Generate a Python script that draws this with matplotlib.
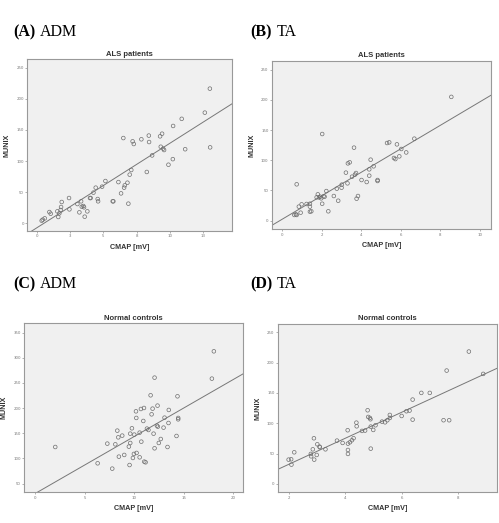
import matplotlib
matplotlib.use("Agg")
import matplotlib.pyplot as plt
import numpy as np

# ---------------- data ----------------
a_cmap = [0.35, 0.43, 0.58, 0.93, 1.03, 1.53, 1.6, 1.68, 1.78, 1.81, 1.86, 2.41, 2.44, 3.04, 3.19,
          3.32, 3.37, 3.49, 3.54, 3.59, 3.79, 3.99, 4.04, 4.25, 4.42, 4.57, 4.6, 4.9, 5.15, 5.7,
          5.75, 6.13, 6.33, 6.5, 6.56, 6.61, 6.81, 6.88, 6.98, 7.1, 7.2, 7.29, 7.86, 8.27, 8.42,
          8.44, 8.67, 9.27, 9.32, 9.42, 9.5, 9.57, 9.9, 10.23, 10.25, 10.9, 11.16, 12.64, 13.02, 13.04]
a_munix = [3.8, 5.4, 7.5, 17.7, 15, 18.8, 9.7, 15.6, 21, 25.8, 33.9, 40.3, 22, 30.6, 17.2,
           35, 26.3, 27.4, 25.3, 10.2, 18.8, 40.3, 40.3, 49, 57, 38.7, 35, 58.6, 67.7, 35,
           35, 66, 47.8, 137, 57, 60.8, 65, 31.2, 78, 85.5, 131.7, 127.4, 135, 82.3, 141,
           130.6, 109, 139.8, 123, 144, 120, 117.7, 94, 103, 156.5, 168, 119, 178, 216.7, 122]

b_cmap = [0.73, 0.84, 0.98, 0.93, 0.69, 0.61, 0.73, 1.23, 1.4, 1.4, 1.4, 1.47, 1.74, 1.8, 1.86,
          1.92, 1.97, 2.02, 2.02, 2.09, 2.14, 2.23, 2.33, 2.61, 2.76, 2.83, 3.0, 3.01, 3.22, 3.3,
          3.32, 3.41, 3.63, 3.53, 3.68, 3.73, 3.76, 3.83, 4.01, 4.27, 4.4, 4.4, 4.47, 4.62, 4.82,
          4.82, 5.3, 5.41, 5.65, 5.72, 5.8, 5.92, 6.02, 6.27, 6.68, 8.55]
b_munix = [60.2, 23.2, 27, 13.2, 10.5, 9.4, 9.4, 27.6, 28, 23.2, 14.9, 15.5, 38.6, 43.6, 38.6,
           39.7, 37, 143.5, 28, 40.3, 39.7, 49, 15.5, 40.8, 53, 33, 54.6, 59.6, 79.5, 61.8,
           94.9, 96.6, 120.9, 72.8, 76.2, 78.9, 36.4, 40.8, 67.3, 64, 74.5, 85, 101, 90, 67.3,
           65.7, 128.6, 129.7, 103.8, 102, 126.4, 106.5, 118.7, 113, 135.8, 205]

c_cmap = [2.02, 6.31, 7.29, 7.79, 8.1, 8.3, 8.4, 8.46, 8.8, 9.0, 9.47, 9.54, 9.61, 9.61, 9.78,
          9.88, 9.98, 10.02, 10.19, 10.22, 10.25, 10.56, 10.56, 10.69, 10.73, 10.93, 11.0, 11.03,
          11.16, 11.3, 11.45, 11.67, 11.77, 11.87, 11.97, 12.07, 12.07, 12.31, 12.37, 12.4, 12.5,
          12.7, 12.98, 13.08, 13.38, 13.48, 13.51, 14.29, 14.39, 14.46, 14.46, 17.87, 18.07]
c_munix = [122.8, 90.4, 129.5, 79.8, 128.1, 155.3, 142, 103.6, 145.4, 107, 123.5, 87, 130.8, 149.3,
           160, 101, 109, 147.4, 193.7, 180.5, 111, 151.3, 102.3, 198.3, 133.4, 174.5, 200.3, 93.7,
           92.4, 159.3, 156.6, 225.5, 187.7, 199, 149.3, 260.6, 120.2, 165.2, 205, 163.2, 130.8,
           138.7, 161.3, 181.1, 122.8, 170.5, 196.4, 144.7, 223.5, 180.5, 177.8, 258.6, 312.9]

d_cmap = [1.98, 2.07, 2.08, 2.18, 2.77, 2.78, 2.84, 2.88, 2.89, 2.98, 3.0, 3.08, 3.09, 3.29, 3.7,
          3.9, 4.08, 4.09, 4.09, 4.09, 4.16, 4.23, 4.29, 4.39, 4.4, 4.59, 4.7, 4.79, 4.81, 4.87,
          4.89, 4.9, 4.9, 4.99, 5.07, 5.3, 5.41, 5.49, 5.58, 5.58, 6.0, 6.17, 6.28, 6.39, 6.39,
          6.7, 7.0, 7.49, 7.6, 7.69, 8.39, 8.9]
d_munix = [40.1, 40.7, 31.9, 52.2, 49.5, 45.6, 57.1, 75.3, 40.1, 47.8, 65.4, 61.5, 60.4, 57.1, 71.4,
           67.6, 88.5, 49.5, 56, 66.5, 68.7, 72, 75.3, 101, 95, 87.4, 88, 121.4, 110.4, 108.8,
           106.6, 58.2, 94.5, 89, 96.7, 102.7, 101.6, 105, 108.8, 113.7, 112, 119.8, 120.9, 139, 106,
           150, 150, 105, 186.8, 105, 218.1, 181.3]

# fit lines (slope, intercept)
fits = [(13.6, -7.5), (19.45, 2.4), (11.3, 30.5), (21.35, -10.0)]

panel_letters = ["A", "B", "C", "D"]
panel_names = ["ADM", "TA", "ADM", "TA"]
titles = ["ALS patients", "ALS patients", "Normal controls", "Normal controls"]

xticks = [[0, 2.5, 5, 7.5, 10, 12.5], [0, 2, 4, 6, 8, 10], [0, 5, 10, 15, 20], [2, 4, 6, 8]]
xticklabels = [["0", "3", "5", "8", "10", "13"], ["0", "2", "4", "6", "8", "10"],
               ["0", "5", "10", "15", "20"], ["2", "4", "6", "8"]]
yticks = [[0, 50, 100, 150, 200, 250], [0, 50, 100, 150, 200, 250],
          [50, 100, 150, 200, 250, 300, 350], [0, 50, 100, 150, 200, 250]]

# ---------------- layout ----------------
xlims = [(-0.73, 14.72), (-0.52, 10.57), (-1.11, 21.05), (1.6, 9.4)]
ylims = [(-12.9, 264), (-14.3, 265), (32.8, 368.5), (-13.7, 264)]
rects = [(0.0548, 0.5583, 0.411, 0.3283), (0.545, 0.5616, 0.4395, 0.3224),
         (0.0487, 0.0587, 0.4389, 0.3231), (0.557, 0.0587, 0.4395, 0.3224)]
label_pos = [(13, 36), (250, 36), (13, 288), (250, 288)]

W, H = 499, 523
fig = plt.figure(figsize=(W / 100, H / 100), dpi=100)
fig.patch.set_facecolor("white")

datasets = [(a_cmap, a_munix), (b_cmap, b_munix), (c_cmap, c_munix), (d_cmap, d_munix)]

for i in range(4):
    ax = fig.add_axes(rects[i])
    ax.set_facecolor("#f0f0f0")
    x, y = datasets[i]
    ax.scatter(x, y, s=7, facecolors="none", edgecolors="#6e6e6e", linewidths=0.5, zorder=3)
    xl = np.array(xlims[i])
    m, b = fits[i]
    ax.plot(xl, m * xl + b, color="#777777", lw=0.7, zorder=2)
    ax.set_xlim(*xlims[i])
    ax.set_ylim(*ylims[i])
    ax.set_xticks(xticks[i])
    ax.set_xticklabels(xticklabels[i])
    ax.set_yticks(yticks[i])
    ax.tick_params(labelsize=2.8, length=1.5, width=0.4, colors="#777777", pad=1)
    for s in ax.spines.values():
        s.set_color("#999999")
        s.set_linewidth(0.8)
    ax.set_title(titles[i], fontsize=5.5, fontweight="bold", family="Liberation Sans",
                 color="#333333", pad=2.5)
    ax.set_xlabel("CMAP [mV]", fontsize=5.2, fontweight="bold", family="Liberation Sans",
                  color="#333333", labelpad=4)
    ax.set_ylabel("MUNIX", fontsize=5.2, fontweight="bold", family="Liberation Sans",
                  color="#333333", labelpad=4)
    lx, ly = label_pos[i]
    fig.text(lx / W, 1 - ly / H, "(" + panel_letters[i] + ")", fontsize=11.5,
             family="Liberation Serif", fontweight="bold", va="baseline", ha="left")
    fig.text((lx + 27) / W, 1 - ly / H, panel_names[i], fontsize=11.5,
             family="Liberation Serif", va="baseline", ha="left")

fig.savefig("out.png", dpi=100)
